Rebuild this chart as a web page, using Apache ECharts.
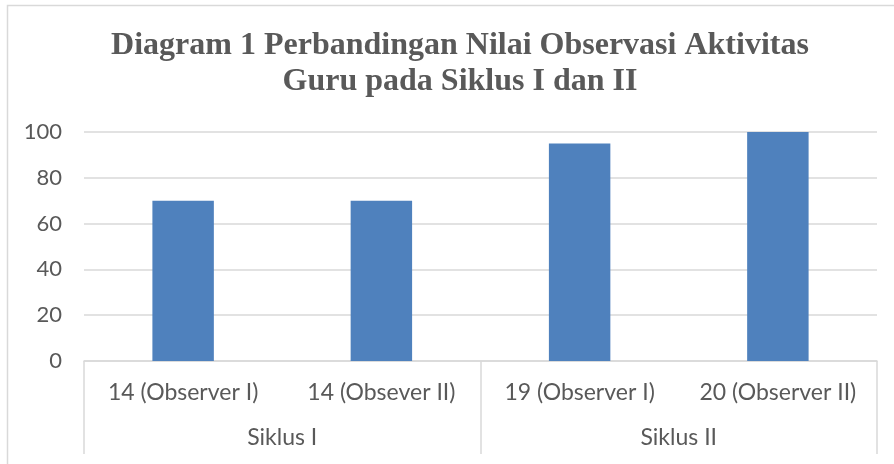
<!DOCTYPE html>
<html>
<head>
<meta charset="utf-8">
<script src="https://cdn.jsdelivr.net/npm/echarts@6/dist/echarts.min.js"></script>
<style>
  html, body { margin: 0; padding: 0; background: #fff; }
  #chart { width: 894px; height: 464px; }
</style>
</head>
<body>
<div id="chart"></div>
<script>
// data
var categories = ['14 (Observer I)', '14 (Obsever II)', '19 (Observer I)', '20 (Observer II)'];
var groups = ['Siklus I', 'Siklus II'];
var values = [70, 70, 95, 100];
var yTicks = [0, 20, 40, 60, 80, 100];

var textColor = '#595959';
var lineColor = '#d9d9d9';
var labelFont = 'Lato, "Open Sans", sans-serif';

var myChart = echarts.init(document.getElementById('chart'));

var option = {
  animation: false,
  // outer frame of the chart area
  graphic: [{
    type: 'rect',
    shape: { x: 7.5, y: 5.5, width: 920, height: 500 },
    style: { fill: 'none', stroke: lineColor, lineWidth: 1.5 },
    silent: true
  }],
  title: {
    text: 'Diagram 1 Perbandingan Nilai Observasi Aktivitas\nGuru pada Siklus I dan II',
    left: 455,
    top: 23,
    textAlign: 'center',
    textStyle: {
      fontFamily: '"Liberation Serif", "Times New Roman", serif',
      fontWeight: 'bold',
      fontSize: 32,
      lineHeight: 36,
      color: textColor
    }
  },
  grid: {
    left: 84,
    right: 17,
    top: 132,
    bottom: 103,
    containLabel: false
  },
  xAxis: [{
    type: 'category',
    data: categories,
    axisLine: { show: true, lineStyle: { color: lineColor, width: 1.5 } },
    axisTick: { show: false },
    axisLabel: {
      margin: 20,
      fontFamily: labelFont,
      fontSize: 23,
      color: textColor,
      interval: 0
    }
  }, {
    type: 'category',
    data: groups,
    position: 'bottom',
    axisLine: { show: false },
    axisTick: {
      show: true,
      length: 93,
      lineStyle: { color: lineColor, width: 1.5 }
    },
    axisLabel: {
      margin: 65,
      fontFamily: labelFont,
      fontSize: 23,
      color: textColor
    }
  }],
  yAxis: {
    type: 'value',
    min: yTicks[0],
    max: yTicks[yTicks.length - 1],
    interval: 20,
    axisLine: { show: false },
    axisTick: { show: false },
    splitLine: { lineStyle: { color: lineColor, width: 1.5 } },
    axisLabel: {
      margin: 22,
      fontFamily: labelFont,
      fontSize: 22,
      color: textColor
    }
  },
  series: [{
    type: 'bar',
    xAxisIndex: 0,
    data: values,
    barWidth: '31%',
    itemStyle: { color: '#4f81bd' }
  }]
};

myChart.setOption(option);
</script>
</body>
</html>
